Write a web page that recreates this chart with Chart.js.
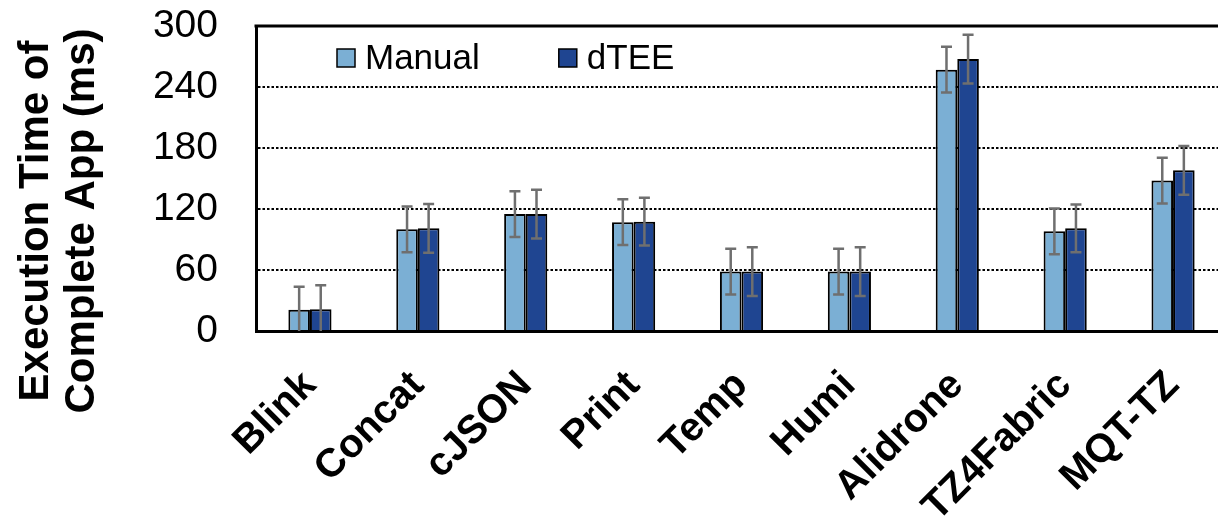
<!DOCTYPE html>
<html>
<head>
<meta charset="utf-8">
<script src="https://cdn.jsdelivr.net/npm/chart.js@4.4.1/dist/chart.umd.min.js"></script>
<style>
  html, body { margin: 0; padding: 0; background: #fff; overflow: hidden; }
  #wrap { width: 1240px; height: 517px; }
</style>
</head>
<body>
<div id="wrap"><canvas id="c" width="1240" height="517"></canvas></div>
<script>
// Execution time of each complete app, ms
const categories = ['Blink', 'Concat', 'cJSON', 'Print', 'Temp', 'Humi', 'Alidrone', 'TZ4Fabric', 'MQT-TZ'];
const manual    = [21, 100, 115, 107, 58.5, 58.5, 257, 98, 148];
const manualErr = [22.5, 22.5, 22.5, 22.5, 22.5, 22.5, 22.5, 22.5, 22.5];
const dtee      = [21.5, 101, 115, 107.5, 58.5, 58.5, 267.5, 101, 158];
const dteeErr   = [23.5, 24, 24, 23.5, 24, 24, 24, 23.5, 24];
const yTicks    = [0, 60, 120, 180, 240, 300];
const yTitle    = ['Execution Time of', 'Complete App (ms)'];

const FONT = '"Liberation Sans", Arial, Helvetica, sans-serif';

// whiskers for each bar, taken from the dataset's own error array
const errorBars = {
  id: 'errorBars',
  afterDatasetsDraw(chart) {
    const { ctx, chartArea: a } = chart;
    const y = chart.scales.y;
    ctx.save();
    ctx.beginPath();
    ctx.rect(a.left, a.top - 2, a.right - a.left, a.bottom - a.top + 2);
    ctx.clip();
    ctx.strokeStyle = '#6f6f6f';
    ctx.lineWidth = 2.5;
    chart.data.datasets.forEach((ds, i) => {
      const meta = chart.getDatasetMeta(i);
      meta.data.forEach((bar, j) => {
        const v = ds.data[j], e = ds.errors[j];
        const yt = y.getPixelForValue(v + e);
        const yb = y.getPixelForValue(v - e);
        const x = bar.x, cap = 5.5;
        ctx.beginPath();
        ctx.moveTo(x, yt); ctx.lineTo(x, yb);
        ctx.moveTo(x - cap, yt); ctx.lineTo(x + cap, yt);
        ctx.moveTo(x - cap, yb); ctx.lineTo(x + cap, yb);
        ctx.stroke();
      });
    });
    ctx.restore();
  }
};

// top edge of the plot frame
const frameTop = {
  id: 'frameTop',
  afterDatasetsDraw(chart) {
    const { ctx, chartArea: a } = chart;
    ctx.save();
    ctx.strokeStyle = '#000';
    ctx.lineWidth = 3;
    ctx.beginPath();
    ctx.moveTo(a.left - 1.5, a.top);
    ctx.lineTo(a.right + 10, a.top);
    ctx.stroke();
    ctx.restore();
  }
};

// legend drawn inside the plot area
const innerLegend = {
  id: 'innerLegend',
  afterDraw(chart) {
    const { ctx, chartArea: a } = chart;
    ctx.save();
    ctx.font = '35px ' + FONT;
    ctx.textBaseline = 'middle';
    ctx.textAlign = 'left';
    let x = a.left + 81;
    const cy = a.top + 32;
    const box = 18;
    chart.data.datasets.forEach((ds) => {
      ctx.fillStyle = ds.backgroundColor;
      ctx.fillRect(x, cy - box / 2, box, box);
      ctx.strokeStyle = '#000';
      ctx.lineWidth = 1.5;
      ctx.strokeRect(x, cy - box / 2, box, box);
      ctx.fillStyle = '#000';
      ctx.fillText(ds.label, x + box + 10, cy + 1);
      x += box + 10 + ctx.measureText(ds.label).width + 79;
    });
    ctx.restore();
  }
};

// two-line vertical axis title
const yAxisTitle = {
  id: 'yAxisTitle',
  afterDraw(chart) {
    const { ctx } = chart;
    ctx.save();
    ctx.font = 'bold 42px ' + FONT;
    ctx.fillStyle = '#000';
    ctx.textAlign = 'center';
    ctx.textBaseline = 'alphabetic';
    const xs = [48, 94];
    yTitle.forEach((line, i) => {
      ctx.save();
      ctx.translate(xs[i], 221);
      ctx.rotate(-Math.PI / 2);
      ctx.fillText(line, 0, 0);
      ctx.restore();
    });
    ctx.restore();
  }
};

new Chart(document.getElementById('c'), {
  type: 'bar',
  data: {
    labels: categories,
    datasets: [
      { label: 'Manual', data: manual, errors: manualErr, backgroundColor: '#7BAFD4',
        borderColor: '#000', borderWidth: 2, categoryPercentage: 0.4, barPercentage: 1.0 },
      { label: 'dTEE', data: dtee, errors: dteeErr, backgroundColor: '#1F4591',
        borderColor: '#000', borderWidth: 2, categoryPercentage: 0.4, barPercentage: 1.0 }
    ]
  },
  options: {
    responsive: false,
    animation: false,
    layout: { padding: { top: 0, right: 13, left: 0, bottom: 0 } },
    plugins: { legend: { display: false }, tooltip: { enabled: false } },
    scales: {
      x: {
        offset: true,
        grid: { display: false, drawTicks: false },
        border: { display: true, color: '#000', width: 3 },
        ticks: {
          autoSkip: false, minRotation: 45, maxRotation: 45, padding: 31,
          color: '#000', font: { family: FONT, size: 40, weight: 'bold' }
        },
        afterFit(s) { s.height = 186; }
      },
      y: {
        min: 0, max: 300,
        afterBuildTicks(s) { s.ticks = yTicks.map(v => ({ value: v })); },
        grid: {
          drawTicks: false, lineWidth: 2,
          color: (c) => (c.tick && (c.tick.value === 0 || c.tick.value === 300)) ? 'rgba(0,0,0,0)' : '#000'
        },
        border: { display: true, color: '#000', width: 3, dash: [2.5, 2] },
        ticks: { padding: 38, color: '#000', font: { family: FONT, size: 39 } },
        afterFit(s) {
          s.width = 256;
          s.paddingTop = 26;
          s.paddingBottom = 0;
        }
      }
    }
  },
  plugins: [errorBars, frameTop, innerLegend, yAxisTitle]
});
</script>
</body>
</html>
